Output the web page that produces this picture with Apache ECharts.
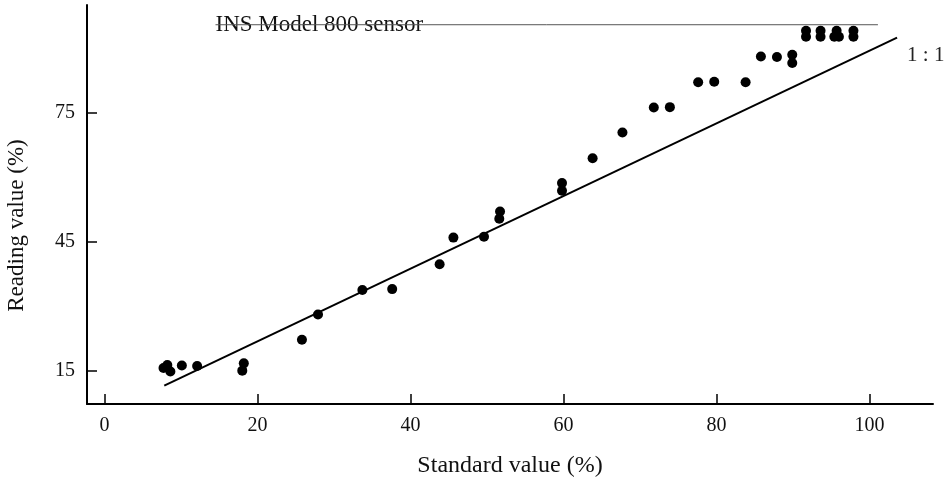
<!DOCTYPE html>
<html>
<head>
<meta charset="utf-8">
<script src="https://cdn.jsdelivr.net/npm/echarts@6/dist/echarts.min.js"></script>
<style>
  html, body { margin: 0; padding: 0; background: #fff; }
  #chart { width: 945px; height: 477px; }
</style>
</head>
<body>
<div id="chart"></div>
<script>
// measured points (standard %, reading %)
const standardValues = [7.7, 8.2, 8.6, 10.1, 12.1, 18.2, 18.0, 25.8, 27.9, 33.7, 37.6, 43.8, 45.6, 49.6, 51.7, 51.6,
  59.8, 59.8, 63.8, 67.7, 71.8, 73.9, 77.6, 79.7, 83.8, 85.8, 87.9, 89.9, 89.9,
  91.7, 91.7, 93.6, 93.6, 95.4, 96.0, 95.7, 97.9, 97.9];
const readingValues = [15.6, 16.3, 14.8, 16.2, 16.1, 16.7, 15.0, 22.2, 28.1, 33.8, 34.0, 39.8, 46.0, 46.2, 52.1, 50.4,
  58.7, 56.9, 64.5, 70.5, 76.3, 76.4, 82.2, 82.3, 82.2, 88.2, 88.1, 88.6, 86.7,
  94.2, 92.8, 94.2, 92.8, 92.8, 92.8, 94.2, 94.2, 92.8];

// reference lines
const oneToOneX = [7.8, 103.6];
const oneToOneY = [11.5, 92.6];
const sensorLineX = [14.5, 101.1];
const sensorLineY = [95.6, 95.6];

const xTicks = [0, 20, 40, 60, 80, 100];
const yTicks = [15, 45, 75];

const serif = "Liberation Serif";

var myChart = echarts.init(document.getElementById("chart"));

const points = standardValues.map((x, i) => [x, readingValues[i]]);

const option = {
  animation: false,
  grid: { left: 87, right: 12, top: 5, bottom: 73, outerBoundsMode: "none", containLabel: false },
  xAxis: {
    type: "value",
    min: -2.3,
    max: 108.3,
    name: "Standard value (%)",
    nameLocation: "middle",
    nameGap: 50,
    nameTextStyle: { fontFamily: serif, fontSize: 24, color: "#111" },
    axisLine: { onZero: false, lineStyle: { color: "#000", width: 2 } },
    axisTick: { inside: true, length: 10, customValues: xTicks, lineStyle: { color: "#000", width: 1.5 } },
    axisLabel: { customValues: xTicks, margin: 12, fontFamily: serif, fontSize: 20, color: "#111" },
    splitLine: { show: false },
  },
  yAxis: {
    type: "value",
    min: 7.23,
    max: 100.2,
    name: "Reading value (%)",
    nameLocation: "middle",
    nameGap: 59,
    nameTextStyle: { fontFamily: serif, fontSize: 23, color: "#111", padding: [0, 42, 0, 0] },
    axisLine: { onZero: false, lineStyle: { color: "#000", width: 2 } },
    axisTick: { inside: true, length: 10, customValues: yTicks, lineStyle: { color: "#000", width: 1.5 } },
    axisLabel: { customValues: yTicks, margin: 12, fontFamily: serif, fontSize: 20, color: "#111" },
    splitLine: { show: false },
  },
  series: [
    {
      type: "line",
      data: sensorLineX.map((x, i) => [x, sensorLineY[i]]),
      symbol: "none",
      lineStyle: { color: "#555", width: 1 },
      z: 1,
    },
    {
      type: "scatter",
      data: [[sensorLineX[0], sensorLineY[0]]],
      symbolSize: 0,
      itemStyle: { opacity: 1 },
      label: {
        show: true,
        position: "right",
        distance: 0,
        formatter: "INS Model 800 sensor",
        fontFamily: serif,
        fontSize: 23,
        color: "#111",
        offset: [0, 0],
      },
      z: 0,
    },
    {
      type: "line",
      data: oneToOneX.map((x, i) => [x, oneToOneY[i]]),
      symbol: "none",
      lineStyle: { color: "#000", width: 2 },
      endLabel: {
        show: true,
        formatter: "1 : 1",
        fontFamily: serif,
        fontSize: 21,
        color: "#222",
        offset: [2, 18],
      },
    },
    {
      type: "scatter",
      data: points,
      symbol: "circle",
      symbolSize: 10,
      itemStyle: { color: "#000", opacity: 1 },
      z: 3,
    },
  ],
};

myChart.setOption(option);
</script>
</body>
</html>
